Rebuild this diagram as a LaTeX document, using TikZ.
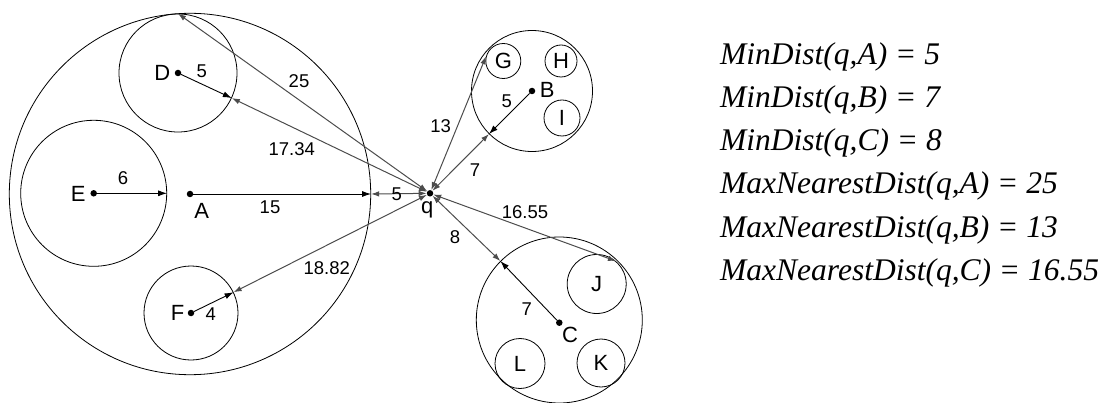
\documentclass[tikz,border=0pt]{standalone}
\usepackage{fontspec}
\setsansfont{Liberation Sans}
\newfontfamily\formulafont{Liberation Serif}
\usetikzlibrary{arrows.meta,positioning}
\tikzset{
  every node/.style={font=\sffamily},
  region/.style={draw=black, circle, line width=0.8pt, inner sep=0pt},
  dot/.style={circle, fill=black, inner sep=0pt, minimum size=6.5pt},
  ptlabel/.style={font=\sffamily\fontsize{22}{26}\selectfont, inner sep=0pt},
  sublabel/.style={font=\sffamily\fontsize{22}{26}\selectfont},
  distlabel/.style={font=\sffamily\fontsize{18.5}{22}\selectfont, inner sep=0pt},
  radarrow/.style={-{Latex[length=9pt,width=6pt]}, line width=0.9pt, draw=black},
  qarrow/.style={{Latex[length=8pt,width=5.5pt]}-{Latex[length=8pt,width=5.5pt]}, line width=1pt, draw=black!70},
  formula/.style={font=\formulafont\itshape\fontsize{31.5}{43}\selectfont, anchor=base west, inner sep=0pt},
}
\begin{document}
\begin{tikzpicture}[x=1pt,y=-1pt]
\useasboundingbox (0,0) rectangle (1107,403);
% regions of A
\node[region, minimum size=361.4pt] (Abox) at (190,194) {};
\node[region, minimum size=118pt] (Dbox) at (178,73) {};
\node[region, minimum size=146pt] (Ebox) at (93.7,193.3) {};
\node[region, minimum size=94pt] (Fbox) at (191,313) {};
% regions of B
\node[region, minimum size=121pt] (Bbox) at (532,91) {};
\node[region, sublabel, minimum size=35pt] (G) at (503.3,61) {G};
\node[region, sublabel, minimum size=32pt] (H) at (561,61) {H};
\node[region, sublabel, minimum size=36pt] (I) at (562,118) {I};
% regions of C
\node[region, minimum size=166pt] (Cbox) at (559.3,320) {};
\node[region, sublabel, minimum size=59pt] (J) at (596.7,284) {J};
\node[region, sublabel, minimum size=48pt] (K) at (601,363) {K};
\node[region, sublabel, minimum size=50pt] (L) at (520,363.5) {L};
% centres and query point
\node[dot] (A) at (Abox.center) {};
\node[dot] (D) at (Dbox.center) {};
\node[dot] (E) at (Ebox.center) {};
\node[dot] (F) at (Fbox.center) {};
\node[dot] (B) at (Bbox.center) {};
\node[dot] (C) at (559.3,322.7) {};
\node[dot] (q) at (430,193.3) {};
\node[ptlabel] (Alab) at (201.7,210.7) {A};
\node[ptlabel] (Dlab) at (162.3,72.7) {D};
\node[ptlabel] (Elab) at (78.3,194.3) {E};
\node[ptlabel] (Flab) at (177.7,313.3) {F};
\node[ptlabel] (Blab) at (547.3,90) {B};
\node[ptlabel] (Clab) at (570,335) {C};
\node[ptlabel] (qlab) at (427.3,210) {q};
% radii
\draw[radarrow] (E) -- (Ebox.east);
\draw[radarrow] (A) -- (Abox.east);
\draw[radarrow] (D) -- (Dbox.-25.5);
\draw[radarrow] (F) -- (Fbox.26.7);
\draw[radarrow] (B) -- (Bbox.225);
\draw[radarrow] (C) -- (Cbox.135);
% distances from q
\draw[qarrow] (q) -- (Abox.east);
\draw[qarrow] (q) -- (Dbox.north);
\draw[qarrow] (q) -- (Dbox.-25.5);
\draw[qarrow] (q) -- (Fbox.26.7);
\draw[qarrow] (q) -- (G.165);
\draw[qarrow] (q) -- (Bbox.225);
\draw[qarrow] (q) -- (Cbox.135);
\draw[qarrow] (q) -- (J.50);
% distance labels
\node[distlabel] (d6) at (123,178) {6};
\node[distlabel] (d15) at (270,207) {15};
\node[distlabel] (dqA) at (396.7,194) {5};
\node[distlabel] (dD) at (201.7,71.7) {5};
\node[distlabel] (d25) at (299,80.7) {25};
\node[distlabel] (d1734) at (291.7,149) {17.34};
\node[distlabel] (d1882) at (326.7,268.3) {18.82};
\node[distlabel] (dF) at (210.7,314) {4};
\node[distlabel] (d13) at (440.7,126) {13};
\node[distlabel] (dB) at (506.7,101.7) {5};
\node[distlabel] (dqB) at (475,170) {7};
\node[distlabel] (dqC) at (455,236.7) {8};
\node[distlabel] (dC) at (526.7,309.3) {7};
\node[distlabel] (d1655) at (525,211.7) {16.55};
% formulas
\foreach \ftext [count=\k] in {{MinDist(q,A) = 5}, {MinDist(q,B) = 7}, {MinDist(q,C) = 8},
    {MaxNearestDist(q,A) = 25}, {MaxNearestDist(q,B) = 13}, {MaxNearestDist(q,C) = 16.55}}
  \node[formula] (f\k) at (720,{22+43*\k}) {\ftext};
\end{tikzpicture}
\end{document}
